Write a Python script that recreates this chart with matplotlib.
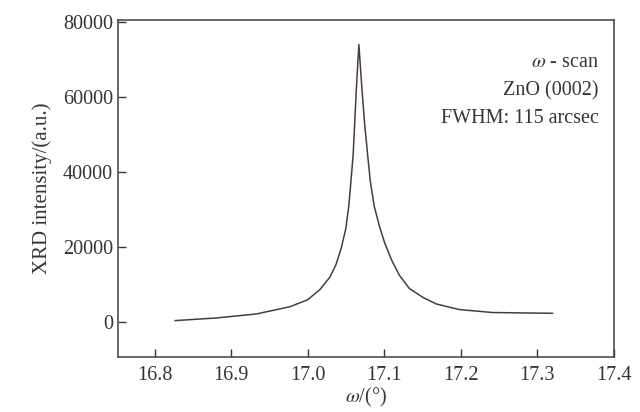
import numpy as np
import matplotlib.pyplot as plt
from matplotlib.ticker import FormatStrFormatter, MultipleLocator

# omega scan
omega = [16.827, 16.881, 16.933, 16.977, 17.000, 17.016, 17.029, 17.037,
         17.044, 17.050, 17.054, 17.0595, 17.0637, 17.067, 17.071,
         17.0745, 17.0785, 17.082, 17.087, 17.094, 17.101, 17.110, 17.120,
         17.133, 17.151, 17.168, 17.198, 17.242, 17.320]
intensity = [450, 1160, 2220, 4150, 6000, 8700, 12000, 15300,
             19800, 25000, 31300, 44500, 62200, 74000, 62200,
             53000, 44500, 37500, 31000, 25500, 21000, 16500, 12500,
             9000, 6600, 4900, 3400, 2600, 2400]

notes = ["$\\omega$ - scan", "ZnO (0002)", "FWHM: 115 arcsec"]

plt.rcParams['font.family'] = ['Liberation Serif', 'DejaVu Serif']
plt.rcParams['mathtext.fontset'] = 'stix'

ink = '#3a3333'
fig = plt.figure(figsize=(6.4, 4.12), dpi=100)
ax = fig.add_axes([0.184, 0.133, 0.775, 0.818])

ax.plot(omega, intensity, color='#4a3c3c', linewidth=1.1)

ax.set_xlim(16.752, 17.4)
ax.set_ylim(-9300, 80500)
ax.xaxis.set_major_locator(MultipleLocator(0.1))
ax.xaxis.set_major_formatter(FormatStrFormatter('%.1f'))
ax.yaxis.set_major_locator(MultipleLocator(20000))
ax.tick_params(direction='in', length=6, width=1, colors=ink, labelsize=14.5)
ax.tick_params(axis='x', pad=6)
for s in ax.spines.values():
    s.set_color('#4a3c3c')
    s.set_linewidth(1.1)

ax.set_xlabel('$\\omega$/(°)', fontsize=14.5, color=ink, labelpad=1)
ax.set_ylabel('XRD intensity/(a.u.)', fontsize=15, color=ink, labelpad=8)

for i, t in enumerate(notes):
    ax.text(0.97, 0.875 - i * 0.084, t, transform=ax.transAxes, ha='right',
            va='center', fontsize=14.5, color=ink)

fig.savefig('out.png', dpi=100)
